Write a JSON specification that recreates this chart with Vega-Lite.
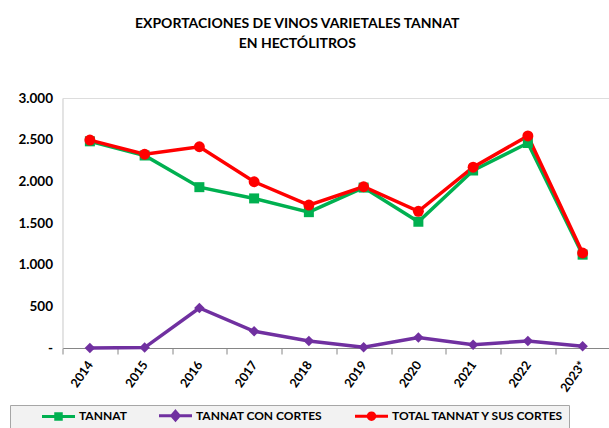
{
  "$schema": "https://vega.github.io/schema/vega-lite/v6.json",
  "width": 547.5,
  "height": 250,
  "autosize": {"type": "none"},
  "padding": {"left": 62.5, "top": 98, "right": 0, "bottom": 80},
  "background": "white",
  "config": {
    "legend": {
      "orient": "none",
      "legendX": -52.5,
      "legendY": 307,
      "direction": "horizontal",
      "columns": 3,
      "titleOrient": "left",
      "titlePadding": 28,
      "labelFont": "Lato",
      "labelFontWeight": "bold",
      "labelFontSize": 12,
      "labelColor": "#000000",
      "labelLimit": 400,
      "symbolSize": 100,
      "symbolStrokeWidth": 3,
      "symbolOpacity": 1,
      "symbolOffset": 10,
      "labelOffset": 14,
      "columnPadding": 26,
      "padding": 4,
      "fillColor": "#f2f2f2",
      "strokeColor": "#a6a6a6"
    }
  },
  "title": {
    "text": ["EXPORTACIONES DE VINOS VARIETALES TANNAT", "EN HECTÓLITROS"],
    "font": "Lato",
    "fontSize": 14,
    "fontWeight": "bold",
    "color": "#000000",
    "anchor": "middle",
    "frame": "group",
    "dx": -39,
    "offset": 40,
    "lineHeight": 20
  },
  "data": {
    "values": [
      {"anio": "2014", "serie": "TANNAT", "valor": 2480},
      {"anio": "2015", "serie": "TANNAT", "valor": 2310},
      {"anio": "2016", "serie": "TANNAT", "valor": 1930},
      {"anio": "2017", "serie": "TANNAT", "valor": 1795},
      {"anio": "2018", "serie": "TANNAT", "valor": 1630},
      {"anio": "2019", "serie": "TANNAT", "valor": 1925},
      {"anio": "2020", "serie": "TANNAT", "valor": 1515},
      {"anio": "2021", "serie": "TANNAT", "valor": 2130},
      {"anio": "2022", "serie": "TANNAT", "valor": 2460},
      {"anio": "2023*", "serie": "TANNAT", "valor": 1120},
      {"anio": "2014", "serie": "TANNAT CON CORTES", "valor": 0},
      {"anio": "2015", "serie": "TANNAT CON CORTES", "valor": 5},
      {"anio": "2016", "serie": "TANNAT CON CORTES", "valor": 480},
      {"anio": "2017", "serie": "TANNAT CON CORTES", "valor": 200},
      {"anio": "2018", "serie": "TANNAT CON CORTES", "valor": 85},
      {"anio": "2019", "serie": "TANNAT CON CORTES", "valor": 10},
      {"anio": "2020", "serie": "TANNAT CON CORTES", "valor": 125},
      {"anio": "2021", "serie": "TANNAT CON CORTES", "valor": 40},
      {"anio": "2022", "serie": "TANNAT CON CORTES", "valor": 85},
      {"anio": "2023*", "serie": "TANNAT CON CORTES", "valor": 20},
      {"anio": "2014", "serie": "TOTAL TANNAT Y SUS CORTES", "valor": 2495},
      {"anio": "2015", "serie": "TOTAL TANNAT Y SUS CORTES", "valor": 2325},
      {"anio": "2016", "serie": "TOTAL TANNAT Y SUS CORTES", "valor": 2415},
      {"anio": "2017", "serie": "TOTAL TANNAT Y SUS CORTES", "valor": 1995},
      {"anio": "2018", "serie": "TOTAL TANNAT Y SUS CORTES", "valor": 1715},
      {"anio": "2019", "serie": "TOTAL TANNAT Y SUS CORTES", "valor": 1935},
      {"anio": "2020", "serie": "TOTAL TANNAT Y SUS CORTES", "valor": 1640},
      {"anio": "2021", "serie": "TOTAL TANNAT Y SUS CORTES", "valor": 2170},
      {"anio": "2022", "serie": "TOTAL TANNAT Y SUS CORTES", "valor": 2545},
      {"anio": "2023*", "serie": "TOTAL TANNAT Y SUS CORTES", "valor": 1140}
    ]
  },
  "encoding": {
    "x": {
      "field": "anio",
      "type": "ordinal",
      "sort": null,
      "scale": {"type": "band", "paddingInner": 0, "paddingOuter": 0},
      "axis": {
        "title": null,
        "labelAngle": -55,
        "labelAlign": "right",
        "labelBaseline": "middle",
        "labelFont": "Lato",
        "labelFontWeight": "bold",
        "labelFontSize": 12.5,
        "labelColor": "#000000",
        "labelPadding": 8,
        "domainColor": "#868686",
        "tickColor": "#868686",
        "tickSize": 6,
        "tickBand": "extent",
        "grid": false
      }
    },
    "y": {
      "field": "valor",
      "type": "quantitative",
      "scale": {"domain": [0, 3000], "nice": false},
      "axis": {
        "title": null,
        "values": [0, 500, 1000, 1500, 2000, 2500, 3000],
        "labelExpr": "datum.value == 0 ? '-' : replace(format(datum.value, ','), ',', '.')",
        "labelFont": "Lato",
        "labelFontWeight": "bold",
        "labelFontSize": 13.5,
        "labelColor": "#000000",
        "labelPadding": 10,
        "ticks": false,
        "domainColor": "#d9d9d9",
        "grid": false
      }
    },
    "color": {
      "field": "serie",
      "type": "nominal",
      "scale": {
        "domain": ["TANNAT", "TANNAT CON CORTES", "TOTAL TANNAT Y SUS CORTES"],
        "range": ["#00b050", "#7030a0", "#ff0000"]
      },
      "legend": {
        "title": " ",
        "labelExpr": "datum.label == 'TOTAL TANNAT Y SUS CORTES' ? datum.label + '          ' : datum.label"
      }
    }
  },
  "layer": [
    {
      "mark": {"type": "line", "strokeWidth": 3.5}
    },
    {
      "transform": [{"filter": "datum.serie == 'TANNAT'"}],
      "mark": {"type": "point", "filled": true, "size": 100, "opacity": 1, "shape": "square"}
    },
    {
      "transform": [{"filter": "datum.serie == 'TANNAT CON CORTES'"}],
      "mark": {"type": "point", "filled": true, "size": 110, "opacity": 1, "shape": "diamond"}
    },
    {
      "transform": [{"filter": "datum.serie == 'TOTAL TANNAT Y SUS CORTES'"}],
      "mark": {"type": "point", "filled": true, "size": 120, "opacity": 1, "shape": "circle"}
    },
    {
      "transform": [{"filter": "false"}],
      "mark": {"type": "point", "filled": true, "strokeWidth": 3},
      "encoding": {
        "shape": {
          "field": "serie",
          "type": "nominal",
          "scale": {
            "domain": ["TANNAT", "TANNAT CON CORTES", "TOTAL TANNAT Y SUS CORTES"],
            "range": [
              "M-3.3,0H3.3M-0.55,-0.55H0.55V0.55H-0.55Z",
              "M-3.3,0H3.3M0,-0.85L0.75,0L0,0.85L-0.75,0Z",
              "M-3.3,0H3.3M-0.65,0A0.65,0.65,0,1,0,0.65,0A0.65,0.65,0,1,0,-0.65,0Z"
            ]
          },
          "legend": {
            "title": " ",
            "labelExpr": "datum.label == 'TOTAL TANNAT Y SUS CORTES' ? datum.label + '          ' : datum.label"
          }
        },
        "stroke": {
          "field": "serie",
          "type": "nominal",
          "scale": {
            "domain": ["TANNAT", "TANNAT CON CORTES", "TOTAL TANNAT Y SUS CORTES"],
            "range": ["#00b050", "#7030a0", "#ff0000"]
          },
          "legend": {
            "title": " ",
            "labelExpr": "datum.label == 'TOTAL TANNAT Y SUS CORTES' ? datum.label + '          ' : datum.label"
          }
        }
      }
    }
  ]
}
